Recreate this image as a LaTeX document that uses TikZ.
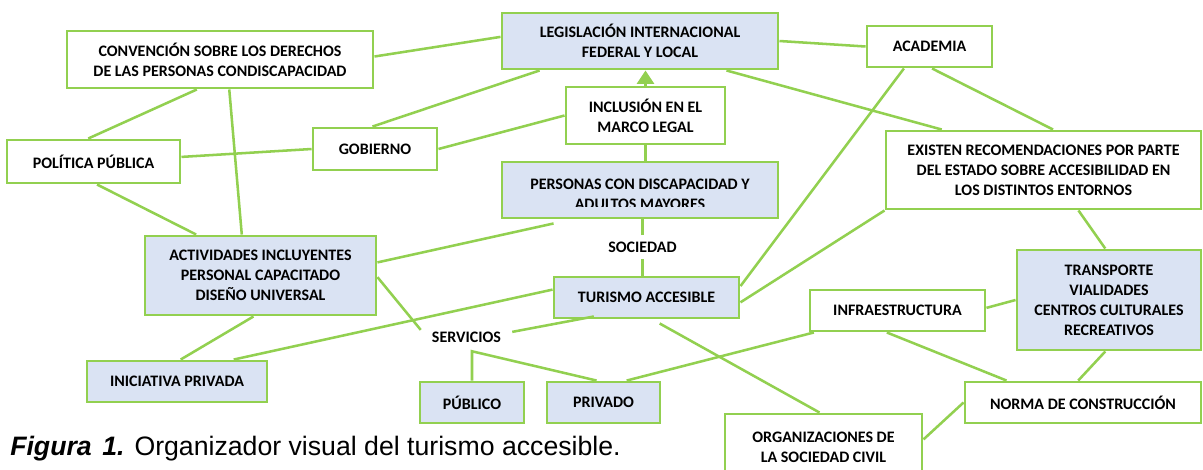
\documentclass[tikz,border=0pt]{standalone}
\usepackage{fontspec}
\newfontfamily\boxfont{Carlito}
\newfontfamily\capfont{Liberation Sans}
\usetikzlibrary{calc,arrows.meta}
\definecolor{lgreen}{HTML}{92D050}
\definecolor{lblue}{HTML}{DAE3F3}
\tikzset{
  box/.style={draw=lgreen, line width=2.2pt, inner sep=0pt, align=center,
    font=\boxfont\bfseries\fontsize{12}{15}\selectfont, text=black},
  wbox/.style={box, fill=white},
  bbox/.style={box, fill=lblue},
  sz/.style 2 args={minimum width=#1*0.75pt, minimum height=#2*0.75pt},
  lbl/.style={inner sep=0pt, font=\boxfont\bfseries\fontsize{12}{15}\selectfont, text=black},
  conn/.style={draw=lgreen, line width=1.9pt},
}
\begin{document}
\begin{tikzpicture}[x=0.75pt,y=-0.75pt]
\useasboundingbox (0,0) rectangle (1203,469);
% boxes
\node[wbox,sz={306}{57}] (conv) at (220,59.5) {CONVENCIÓN SOBRE LOS DERECHOS\\DE LAS PERSONAS CONDISCAPACIDAD};
\node[bbox,sz={276}{56}] (leg) at (640,41) {LEGISLACIÓN INTERNACIONAL\\FEDERAL Y LOCAL};
\node[wbox,sz={125}{41}] (acad) at (929.5,46.5) {ACADEMIA};
\node[wbox,sz={159}{57}] (incl) at (645.5,115.5) {INCLUSIÓN EN EL\\MARCO LEGAL};
\node[wbox,sz={124}{42}] (gob) at (375,149) {GOBIERNO};
\node[wbox,sz={173}{43}] (pol) at (93.5,161.5) {POLÍTICA PÚBLICA};
\node[bbox,sz={276}{56}] (pers) at (640,190) {};
\begin{scope}
  \clip (503,163) rectangle (777,206.5);
  \node[lbl,align=center] (perstext) at (640,194) {PERSONAS CON DISCAPACIDAD Y\\ADULTOS MAYORES};
\end{scope}
\node[wbox,sz={315}{78}] (exist) at (1043.5,170) {EXISTEN RECOMENDACIONES POR PARTE\\DEL ESTADO SOBRE ACCESIBILIDAD EN\\LOS DISTINTOS ENTORNOS};
\node[bbox,sz={231}{79}] (act) at (260.5,275.5) {ACTIVIDADES INCLUYENTES\\PERSONAL CAPACITADO\\DISEÑO UNIVERSAL};
\node[bbox,sz={185}{41}] (tur) at (646.5,297.5) {TURISMO ACCESIBLE};
\node[wbox,sz={175}{41}] (infra) at (897.5,310.5) {INFRAESTRUCTURA};
\node[bbox,sz={184}{100}] (trans) at (1109,300) {TRANSPORTE\\VIALIDADES\\CENTROS CULTURALES\\RECREATIVOS};
\node[bbox,sz={180}{41}] (inic) at (177,381.5) {INICIATIVA PRIVADA};
\node[bbox,sz={104}{41}] (pub) at (472,402.5) {PÚBLICO};
\node[bbox,sz={113}{41}] (priv) at (603.5,402.5) {PRIVADO};
\node[wbox,sz={236}{41}] (norma) at (1083,402.5) {NORMA DE CONSTRUCCIÓN};
\node[wbox,sz={197}{66}] (org) at (823.5,447) {ORGANIZACIONES DE\\LA SOCIEDAD CIVIL};
% labels
\node[lbl,minimum height=23*0.75pt] (soc) at (642.5,247) {SOCIEDAD};
\node[lbl,minimum height=28*0.75pt,minimum width=91*0.75pt] (serv) at (466.5,337) {SERVICIOS};
% caption
\node[inner sep=0pt,anchor=base west,font=\capfont\fontsize{20}{24}\selectfont] (cap) at (10,455)
  {{\bfseries\itshape Figura\hspace{0.4em}1.} Organizador visual del turismo accesible.};
% connectors
\draw[conn] ($(conv.north east)!.45!(conv.south east)$) -- ($(leg.north west)!.43!(leg.south west)$);
\draw[conn] ($(conv.south west)!.425!(conv.south east)$) -- ($(pol.north west)!.47!(pol.north east)$);
\draw[conn] ($(conv.south west)!.53!(conv.south east)$) -- ($(act.north west)!.42!(act.north east)$);
\draw[conn] ($(pol.south west)!.52!(pol.south east)$) -- ($(act.north west)!.225!(act.north east)$);
\draw[conn] ($(pol.north east)!.4!(pol.south east)$) -- (gob.west);
\draw[conn] ($(gob.north west)!.48!(gob.north east)$) -- ($(leg.south west)!.14!(leg.south east)$);
\draw[conn] (gob.east) -- (incl.west);
\draw[conn,-{Triangle[width=12.75pt,length=10pt]}] (incl.north) -- (incl.north |- leg.south);
\draw[conn] (incl.south) -- (incl.south |- pers.north);
\draw[conn] (soc.north) -- (soc.north |- pers.south);
\draw[conn] (soc.south) -- (soc.south |- tur.north);
\draw[conn] ($(pers.south west)!.19!(pers.south east)+(0,4)$) -- ($(act.north east)!.34!(act.south east)$);
\draw[conn] (leg.east) -- (acad.west);
\draw[conn] ($(leg.south west)!.81!(leg.south east)$) -- ($(exist.north west)!.18!(exist.north east)$);
\draw[conn] ($(acad.south west)!.3!(acad.south east)$) -- ($(tur.north east)!.24!(tur.south east)$);
\draw[conn] ($(acad.south west)!.52!(acad.south east)$) -- ($(exist.north west)!.53!(exist.north east)$);
\draw[conn] (exist.south west) -- ($(tur.north east)!.61!(tur.south east)$);
\draw[conn] ($(exist.south west)!.61!(exist.south east)$) -- ($(trans.north west)!.48!(trans.north east)$);
\draw[conn] ($(infra.north west)!.45!(infra.south west)$) -- ($(infra.north west)!.45!(infra.south west)$ -| tur.east);
\draw[conn] ($(infra.north east)!.44!(infra.south east)$) -- (trans.west);
\draw[conn] ($(infra.south west)!.44!(infra.south east)$) -- ($(norma.north west)!.18!(norma.north east)$);
\draw[conn] ($(trans.south west)!.48!(trans.south east)$) -- ($(norma.north west)!.48!(norma.north east)$);
\draw[conn] (norma.west) -- ($(org.north east)!.39!(org.south east)$);
\draw[conn] ($(tur.south west)!.57!(tur.south east)+(0,4)$) -- ($(org.north west)!.48!(org.north east)$);
\draw[conn] ($(infra.south west)!.03!(infra.south east)$) -- ($(priv.north west)!.7!(priv.north east)$);
\draw[conn] ($(tur.north west)!.32!(tur.south west)$) -- ($(inic.north west)!.81!(inic.north east)$);
\draw[conn] ($(tur.south west)!.22!(tur.south east)+(0,-3)$) -- ($(serv.north east)!.32!(serv.south east)$);
\draw[conn] ($(act.north east)!.52!(act.south east)$) -- ($(serv.north west)!.25!(serv.south west)$);
\draw[conn] (pub.north) -- (pub.north |- serv.south) -- ($(priv.north west)!.44!(priv.north east)$);
\draw[conn] ($(act.south west)!.47!(act.south east)$) -- ($(inic.north west)!.52!(inic.north east)$);
\end{tikzpicture}
\end{document}
